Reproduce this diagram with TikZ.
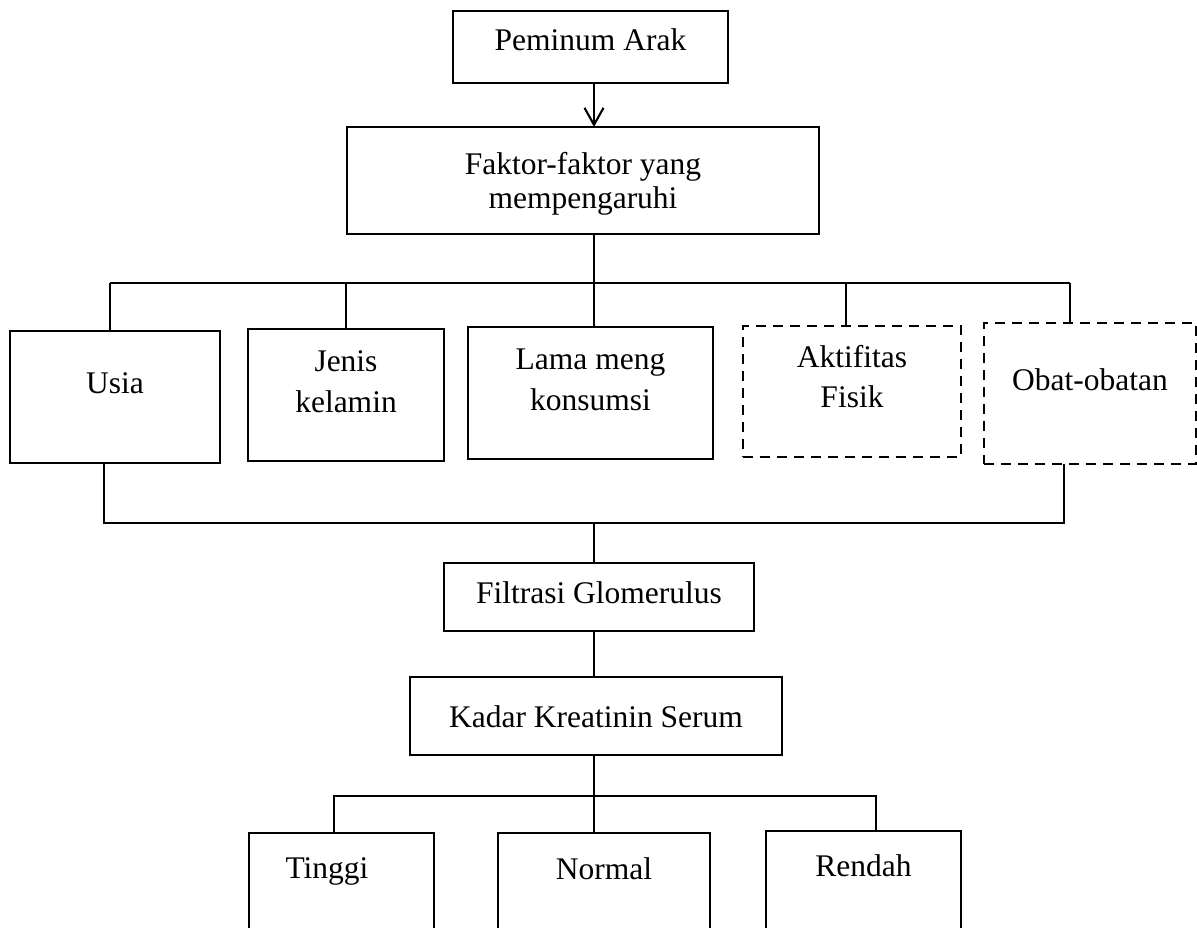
\documentclass[tikz,border=0pt]{standalone}
\usepackage{fontspec}
\setmainfont{Liberation Serif}
\usetikzlibrary{arrows.meta}
\begin{document}
\begin{tikzpicture}[x=1pt,y=-1pt,
  box/.style={draw, line width=2.9pt, inner sep=0pt, outer sep=0pt},
  dbox/.style={box, dash pattern=on 10pt off 7pt},
  txt/.style={anchor=base, inner sep=0pt, font=\fontsize{31.5}{38}\selectfont},
  conn/.style={draw, line width=2.1pt}]
\useasboundingbox (0,0) rectangle (1197,928);
\clip (0,0) rectangle (1197,928);
\fill[white] (0,0) rectangle (1197,928);

% boxes
\node[box, minimum width=275pt, minimum height=72pt] (pem) at (590.5,47) {};
\node[box, minimum width=472pt, minimum height=107pt] (fak) at (583,180.5) {};
\node[box, minimum width=210pt, minimum height=132pt] (usia) at (115,397) {};
\node[box, minimum width=196pt, minimum height=132pt] (jenis) at (346,395) {};
\node[box, minimum width=245pt, minimum height=132pt] (lama) at (590.5,393) {};
\node[dbox, minimum width=218pt, minimum height=131pt] (akt) at (852,391.5) {};
\node[dbox, minimum width=212pt, minimum height=141pt] (obat) at (1090,393.5) {};
\node[box, minimum width=310pt, minimum height=68pt] (fil) at (599,597) {};
\node[box, minimum width=372pt, minimum height=78pt] (kad) at (596,716) {};
\node[box, minimum width=185pt, minimum height=120pt] (tinggi) at (341.5,893) {};
\node[box, minimum width=212pt, minimum height=120pt] (normal) at (604,893) {};
\node[box, minimum width=195pt, minimum height=122pt] (rendah) at (863.5,892) {};

% texts
\node[txt] (tpem) at (590.5,51) {Peminum Arak};
\node[txt] (tfak1) at (583,175) {Faktor-faktor yang};
\node[txt] (tfak2) at (583,209) {mempengaruhi};
\node[txt] (tusia) at (115,393) {Usia};
\node[txt] (tjen1) at (346,371) {Jenis};
\node[txt] (tjen2) at (346,412) {kelamin};
\node[txt] (tlam1) at (590.5,369) {Lama meng};
\node[txt] (tlam2) at (590.5,410) {konsumsi};
\node[txt] (takt1) at (852,367) {Aktifitas};
\node[txt] (takt2) at (852,407) {Fisik};
\node[txt] (tobat) at (1090,390) {Obat-obatan};
\node[txt] (tfil) at (599,603) {Filtrasi Glomerulus};
\node[txt] (tkad) at (596,727) {Kadar Kreatinin Serum};
\node[txt] (ttin) at (327,878) {Tinggi};
\node[txt] (tnor) at (604,879) {Normal};
\node[txt] (tren) at (863.5,876) {Rendah};

% junction coordinates
\coordinate (t) at (594,0);
\coordinate (du) at (110,283);
\coordinate (dj) at (346,283);
\coordinate (dl) at (594,283);
\coordinate (da) at (846,283);
\coordinate (do) at (1070,283);
\coordinate (eu) at (104,523);
\coordinate (ec) at (594,523);
\coordinate (eo) at (1064,523);
\coordinate (ft) at (334,796);
\coordinate (fn) at (594,796);
\coordinate (fr) at (876,796);

% connectors
\draw[conn, -{Straight Barb[length=17pt,width=19pt]}] (pem.south -| t) -- (fak.north -| t);
\draw[conn] (fak.south -| t) -- (dl);
\draw[conn] (du) -- (do);
\draw[conn] (du) -- (usia.north -| du);
\draw[conn] (dj) -- (jenis.north -| dj);
\draw[conn] (dl) -- (lama.north -| dl);
\draw[conn] (da) -- (akt.north -| da);
\draw[conn] (do) -- (obat.north -| do);
\draw[conn] (usia.south -| eu) -- (eu) -- (eo) -- (obat.south -| eo);
\draw[conn] (ec) -- (fil.north -| ec);
\draw[conn] (fil.south -| t) -- (kad.north -| t);
\draw[conn] (kad.south -| t) -- (fn);
\draw[conn] (tinggi.north -| ft) -- (ft) -- (fr) -- (rendah.north -| fr);
\draw[conn] (fn) -- (normal.north -| fn);
\end{tikzpicture}
\end{document}
